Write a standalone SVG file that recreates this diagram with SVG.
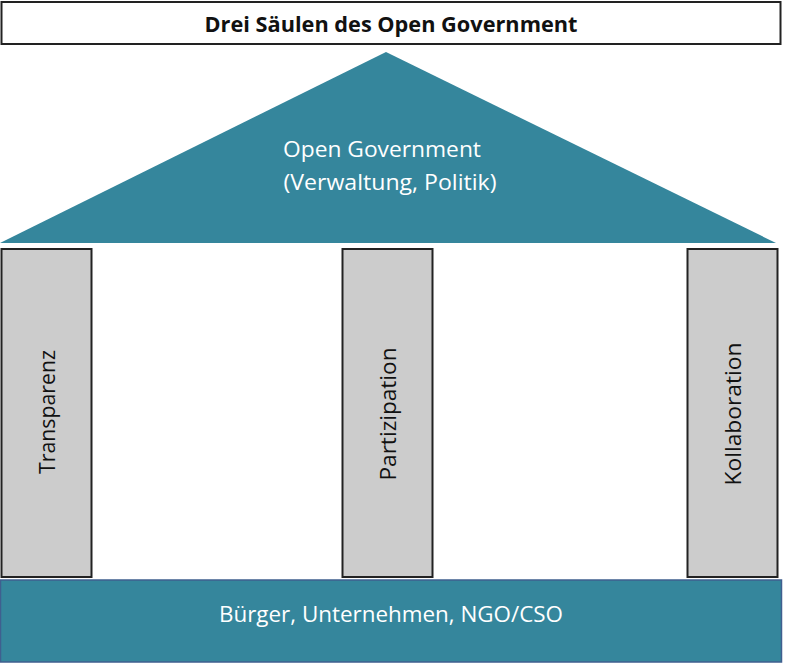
<svg xmlns="http://www.w3.org/2000/svg" width="785" height="663" viewBox="0 0 785 663">
<style>
.col{fill:#cccccc;stroke:#222222;stroke-width:2}
.t{font-family:"Open Sans","Liberation Sans",sans-serif;font-size:22px;text-anchor:middle;dominant-baseline:central}
.w{fill:#ffffff}
.k{fill:#111111}
</style>
<rect width="785" height="663" fill="#ffffff"/>
<g id="title">
<rect x="1.5" y="2" width="779" height="42" fill="#ffffff" stroke="#222222" stroke-width="2"/>
<text class="t k" x="391" y="23" font-weight="bold" font-size="22" textLength="373" lengthAdjust="spacingAndGlyphs">Drei Säulen des Open Government</text>
</g>
<g id="roof">
<polygon points="386,52 776,243 0,243" fill="#35869c"/>
<text class="t w" x="382" y="148" textLength="198" lengthAdjust="spacingAndGlyphs">Open Government</text>
<text class="t w" x="390" y="181" textLength="213" lengthAdjust="spacingAndGlyphs">(Verwaltung, Politik)</text>
</g>
<g id="transparenz">
<rect class="col" x="1.5" y="249" width="90" height="328"/>
<text class="t k" transform="translate(46,412) rotate(-90)" textLength="124" lengthAdjust="spacingAndGlyphs">Transparenz</text>
</g>
<g id="partizipation">
<rect class="col" x="342.5" y="249" width="90" height="328"/>
<text class="t k" transform="translate(387,414) rotate(-90)" textLength="133" lengthAdjust="spacingAndGlyphs">Partizipation</text>
</g>
<g id="kollaboration">
<rect class="col" x="687.5" y="249" width="90" height="328"/>
<text class="t k" transform="translate(732,414) rotate(-90)" textLength="143" lengthAdjust="spacingAndGlyphs">Kollaboration</text>
</g>
<g id="base">
<rect x="0.5" y="580" width="781" height="82" fill="#35869c" stroke="#3f5f8f" stroke-width="1.5"/>
<text class="t w" x="391" y="613" textLength="344" lengthAdjust="spacingAndGlyphs">Bürger, Unternehmen, NGO/CSO</text>
</g>
<g id="connectors"></g>
</svg>
